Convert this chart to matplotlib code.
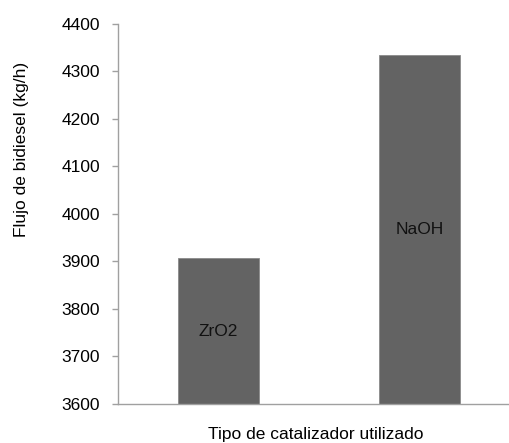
import matplotlib
matplotlib.use("Agg")
import matplotlib.pyplot as plt

categories = ["ZrO2", "NaOH"]
values = [3907, 4334]
yticks = [3600, 3700, 3800, 3900, 4000, 4100, 4200, 4300, 4400]

plt.rcParams['font.family'] = ['Liberation Sans', 'DejaVu Sans']

fig = plt.figure(figsize=(5.09, 4.43), dpi=100)
W, H = 509, 443
ax = fig.add_axes([118 / W, 1 - 404 / H, (520 - 118) / W, (404 - 24) / H])

FS = 12.5
x = list(range(len(categories)))
bars = ax.bar(x, values, width=0.4, color="#636363", edgecolor="#8a8a8a", linewidth=0.6)
for xi, v, name in zip(x, values, categories):
    ax.text(xi, (3600 + v) / 2, name, ha="center", va="center", fontsize=FS, color="#111111")

ax.set_xlim(-0.5, 1.5)
ax.set_ylim(3600, 4400)
ax.set_yticks(yticks)
ax.set_yticklabels([str(t) for t in yticks], fontsize=FS)
ax.set_xticks([])
for s in ["top", "right"]:
    ax.spines[s].set_visible(False)
for s in ["left", "bottom"]:
    ax.spines[s].set_color("#a0a0a0")
    ax.spines[s].set_linewidth(1)
ax.tick_params(axis="y", length=4, color="#a0a0a0", width=1, pad=9)

fig.text(22 / W, 1 - 149 / H, "Flujo de bidiesel (kg/h)", rotation=90, ha="center", va="center", fontsize=FS)
fig.text(316 / W, 1 - 434 / H, "Tipo de catalizador utilizado", ha="center", va="center", fontsize=FS)

fig.savefig("out.png", dpi=100)
